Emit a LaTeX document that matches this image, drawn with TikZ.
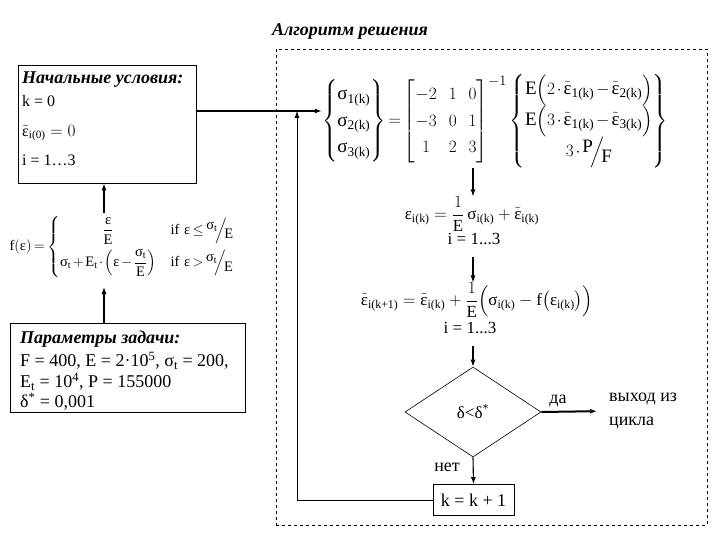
\documentclass[tikz,border=0pt]{standalone}
\usepackage{amsmath}
\usepackage{fontspec}
\setmainfont{Liberation Serif}
\usetikzlibrary{shapes.geometric,arrows.meta}
\newcommand\g[1]{\text{#1}}
\newcommand\xsg{\text{σ}}
\newcommand\xep{\text{ε}}
\newcommand\xtep{\tilde{\text{ε}}}
\begin{document}
\begin{tikzpicture}[x=1pt,y=-1pt,
  every node/.style={inner sep=0pt},
  box/.style={draw, line width=0.8pt},
  arr/.style={-{Latex[length=7pt,width=5pt]}, line width=1.1pt},
  arrthick/.style={-{Latex[length=7pt,width=5pt]}, line width=2pt},
  txt/.style={font=\fontsize{16}{19}\selectfont},
  big/.style={font=\fontsize{18}{22}\selectfont},
  hdr/.style={font=\fontsize{18}{22}\selectfont\bfseries\itshape}]
\useasboundingbox (0,0) rectangle (720,540);
\node[hdr] (title) at (350,31) {Алгоритм решения};
\node[draw, dashed, line width=0.6pt, minimum width=431pt, minimum height=476pt] (frame) at (491.5,287) {};

% initial conditions
\node[box, minimum width=178pt, minimum height=118pt] (init) at (107,124) {};
\node[hdr, anchor=west] (i1) at (22,80) {Начальные условия:};
\node[txt, anchor=west] (i2) at (22,101) {k = 0};
\node[txt, anchor=west] (i3) at (22,133) {$\xtep_{\g{i(0)}} = 0$};
\node[txt, anchor=west] (i4) at (22,160) {i = 1…3};

% parameters
\node[box, minimum width=235pt, minimum height=89pt] (par) at (127.5,367.5) {};
\node[hdr, anchor=west] (p1) at (20,339) {Параметры задачи:};
\node[big, anchor=west] (p2) at (20,361) {F = 400, E = 2·10\textsuperscript{5}, σ\textsubscript{t} = 200,};
\node[big, anchor=west] (p3) at (20,382) {E\textsubscript{t} = 10\textsuperscript{4}, P = 155000};
\node[big, anchor=west] (p4) at (20,402) {δ\textsuperscript{*} = 0,001};

% f(eps)
\node[font=\fontsize{14.5}{17}\selectfont] (fe) at (122,247) {\medmuskip=2mu\thickmuskip=3mu$\g{f}(\xep) = \left\{\begin{array}{@{}c@{\quad}l@{\;\;}l@{}}
  \dfrac{\xep}{\g{E}} & \g{if} & \xep \le \raisebox{0.7ex}{$\xsg_{\g{t}}$}\!\Big/\!\raisebox{-0.7ex}{E} \\[10pt]
  \xsg_{\g{t}} + \g{E}_{\g{t}}\cdot\Bigl(\xep - \dfrac{\xsg_{\g{t}}}{\g{E}}\Bigr) & \g{if} & \xep > \raisebox{0.7ex}{$\xsg_{\g{t}}$}\!\Big/\!\raisebox{-0.7ex}{E}
  \end{array}\right.$};
\coordinate (fetop) at (104,213);
\coordinate (febot) at (104,287);
\draw[arr] (fetop) -- (init.south -| fetop);
\draw[arr] (par.north -| febot) -- (febot);

% sigma equation
\node[font=\fontsize{19}{23}\selectfont] (sig) at (495,121) {\renewcommand{\arraystretch}{1.15}\medmuskip=2mu\thickmuskip=3mu\nulldelimiterspace=0pt$\setlength{\arraycolsep}{1pt}\left\{\begin{matrix} \xsg_{\g{1(k)}} \\ \xsg_{\g{2(k)}} \\ \xsg_{\g{3(k)}} \end{matrix}\right\}{=}\setlength{\arraycolsep}{6pt}\begin{bmatrix} -2 & 1 & 0 \\ -3 & 0 & 1 \\ 1 & 2 & 3 \end{bmatrix}^{-1}\setlength{\arraycolsep}{1pt}\left\{\begin{matrix} \g{E}\Bigl(2\cdot\xtep_{\g{1(k)}} - \xtep_{\g{2(k)}}\Bigr) \\ \g{E}\Bigl(3\cdot\xtep_{\g{1(k)}} - \xtep_{\g{3(k)}}\Bigr) \\ 3\cdot\raisebox{0.5ex}{P}\!\Big/\!\raisebox{-0.7ex}{F} \end{matrix}\right\}$};
\coordinate (j) at (297,111);
\draw[arrthick] (init.east |- j) -- (sig.west |- j);

% eq 2
\node[font=\fontsize{17}{20}\selectfont] (eq2) at (472,214) {$\xep_{\g{i(k)}} = \dfrac{1}{\g{E}}\,\xsg_{\g{i(k)}} + \xtep_{\g{i(k)}}$};
\node[font=\fontsize{17}{20}\selectfont] (e2i) at (474,239) {i = 1...3};

% eq 3
\node[font=\fontsize{17}{20}\selectfont] (eq3) at (477,300) {$\xtep_{\g{i(k+1)}} = \xtep_{\g{i(k)}} + \dfrac{1}{\g{E}}\Bigl(\xsg_{\g{i(k)}} - \g{f}\bigl(\xep_{\g{i(k)}}\bigr)\Bigr)$};
\node[font=\fontsize{17}{20}\selectfont] (e3i) at (470,328) {i = 1...3};

% decision
\node[draw, diamond, aspect=1.51, minimum width=136pt, minimum height=90pt, inner sep=0pt, line width=0.6pt, font=\fontsize{17}{20}\selectfont] (dia) at (473,412) {δ<δ\textsuperscript{*}};
\node[box, minimum width=81pt, minimum height=31pt, font=\fontsize{18}{20}\selectfont] (kb) at (473.5,500) {k = k + 1};
\node[big] (da) at (558,401) {да};
\node[big] (net) at (447,467) {нет};
\node[big, anchor=west, align=left] (ex) at (609,411) {выход из\\[2pt]цикла};

\draw[arr] (sig.south -| dia) -- (eq2.north -| dia);
\draw[arr, shorten <=12pt] (e2i.south -| dia) -- (eq3.north -| dia);
\draw[arr, shorten <=12pt] (e3i.south -| dia) -- (dia.north);
\draw[arr] (dia.south) -- (kb.north);
\draw[arrthick, shorten >=12pt] (dia.east) -- (ex.west);
\draw[arr, line width=0.8pt] (kb.west) -| (j);
\end{tikzpicture}
\end{document}
